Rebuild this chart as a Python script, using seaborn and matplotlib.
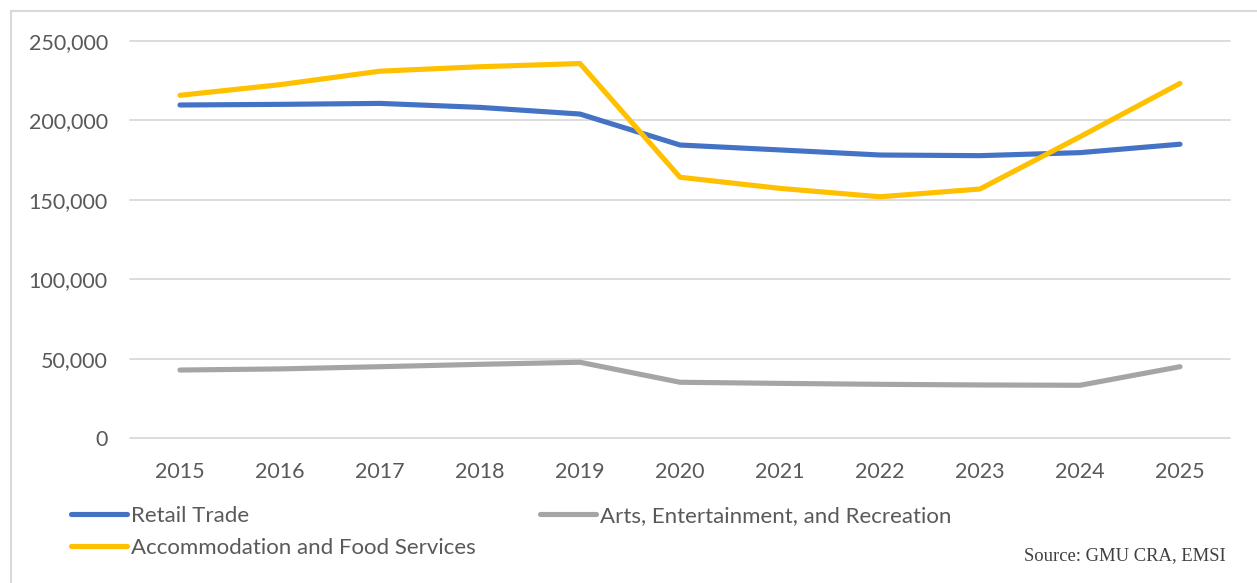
import matplotlib
matplotlib.use("Agg")
import matplotlib.pyplot as plt
from matplotlib.lines import Line2D
import seaborn as sns
import pandas as pd

# Employment by industry, 2015-2025
years = [2015, 2016, 2017, 2018, 2019, 2020, 2021, 2022, 2023, 2024, 2025]
retail_trade = [209700, 210100, 210700, 208200, 204000, 184500, 181400, 178200, 177800, 179700, 185000]
arts_entertainment = [42800, 43500, 44900, 46400, 47700, 35100, 34400, 33800, 33400, 33200, 44900]
accommodation_food = [215800, 222500, 231000, 233800, 235800, 164200, 157200, 151900, 156800, 189700, 223300]

series_names = ["Retail Trade", "Arts, Entertainment, and Recreation",
                "Accommodation and Food Services"]
series_values = [retail_trade, arts_entertainment, accommodation_food]
series_colors = ["#4472C4", "#A5A5A5", "#FFC000"]
y_ticks = [0, 50000, 100000, 150000, 200000, 250000]
source_note = "Source: GMU CRA, EMSI"

sns.set_theme(style="white")
plt.rcParams["font.family"] = ["Lato", "DejaVu Sans"]

W, H = 1257, 583
fig = plt.figure(figsize=(W / 100, H / 100), dpi=100)
ax = fig.add_axes([130 / W, 1 - 438 / H, 1100 / W, 397 / H])

frames = []
for name, vals in zip(series_names, series_values):
    frames.append(pd.DataFrame({"year": years, "value": vals, "series": name}))
df = pd.concat(frames, ignore_index=True)

palette = dict(zip(series_names, series_colors))
sns.lineplot(data=df, x="year", y="value", hue="series", palette=palette,
             linewidth=3.7, ax=ax, legend=False, zorder=3)
for ln in ax.get_lines():
    ln.set_solid_capstyle("round")
    ln.set_solid_joinstyle("round")

ax.set_xlim(years[0] - 0.5, years[-1] + 0.5)
ax.set_ylim(0, 250000)
ax.set_xticks(years)
ax.set_xticklabels([str(y) for y in years])
ax.set_yticks(y_ticks)
ax.set_yticklabels([f"{v:,}" for v in y_ticks])
ax.set_xlabel("")
ax.set_ylabel("")
for s in ax.spines.values():
    s.set_visible(False)
ax.grid(axis="y", color="#D9D9D9", linewidth=1.3, zorder=0)
ax.grid(axis="x", visible=False)
ax.tick_params(axis="y", length=0, pad=16, labelsize=15.5, labelcolor="#595959")
ax.tick_params(axis="x", length=0, pad=17.5, labelsize=15.5, labelcolor="#595959")
for gl in ax.get_ygridlines():
    gl.set_clip_on(False)

# Legend in two columns: Retail / Arts on the first row, Accommodation below
handles = [Line2D([0], [0], color=c, linewidth=3.7, solid_capstyle="round")
           for c in series_colors]
order = [0, 2, 1]
leg = fig.legend([handles[i] for i in order], [series_names[i] for i in order],
                 loc="upper left", bbox_to_anchor=(71 / W, 1 - 506 / H),
                 ncol=2, frameon=False, fontsize=16, handlelength=2.5,
                 handletextpad=0.2, columnspacing=2.9, labelspacing=0.52,
                 borderpad=0, borderaxespad=0)
for t in leg.get_texts():
    t.set_color("#595959")

fig.text(1226 / W, 1 - 556 / H, source_note, ha="right", va="center",
         fontsize=13.4, color="#404040", family=["Liberation Serif", "DejaVu Serif"])

# Outer chart frame (top and left edges)
fig.add_artist(Line2D([11 / W, 1.0], [1 - 11 / H, 1 - 11 / H], transform=fig.transFigure,
                      color="#D9D9D9", linewidth=1.5))
fig.add_artist(Line2D([11 / W, 11 / W], [1 - 11 / H, 0.0], transform=fig.transFigure,
                      color="#D9D9D9", linewidth=1.5))

fig.savefig("out.png", dpi=100, facecolor="white")
